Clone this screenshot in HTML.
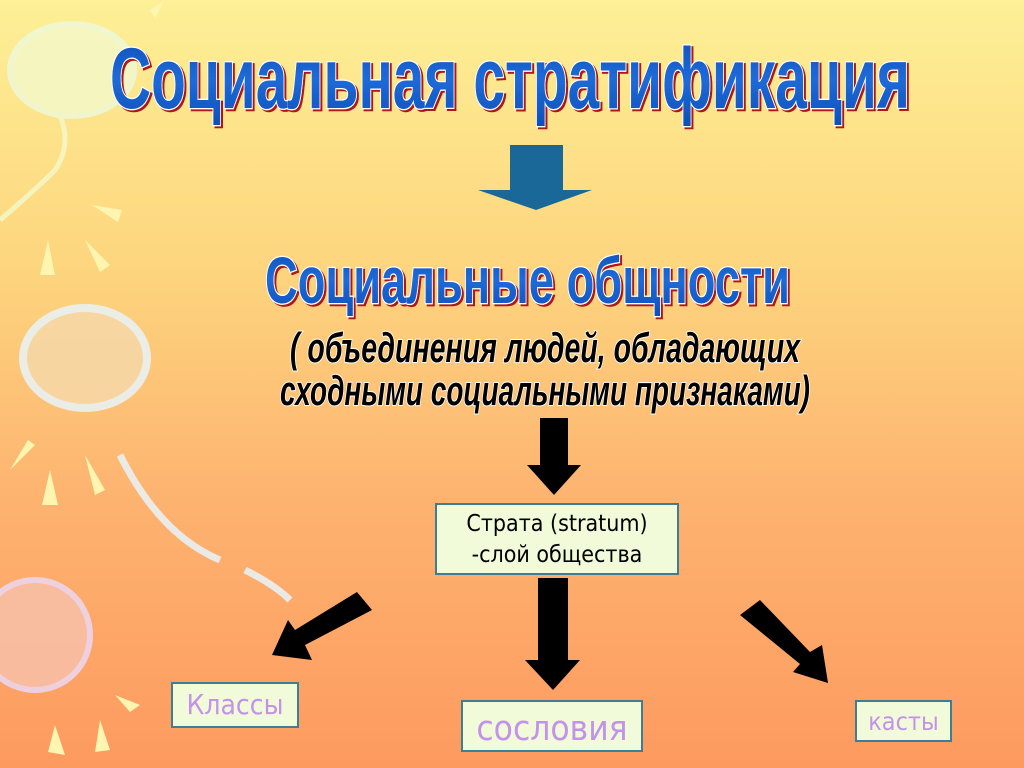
<!DOCTYPE html>
<html><head><meta charset="utf-8"><style>
html,body{margin:0;padding:0}
body{width:1024px;height:768px;overflow:hidden;background:linear-gradient(#fdf096 0%,#fdd57e 35%,#fdb370 65%,#fd9a60 100%);position:relative;font-family:"Liberation Sans",sans-serif}
.box{position:absolute;background:#f1fbd9;border:2px solid #3f7d93;box-sizing:border-box;text-align:center;font-family:"DejaVu Sans Condensed","DejaVu Sans","Liberation Sans",sans-serif;white-space:nowrap}
</style></head><body>
<svg width="1024" height="768" style="position:absolute;left:0;top:0">
<g opacity="0.85">
<ellipse cx="72" cy="70" rx="62" ry="46" fill="#f4f8c8" stroke="#eef8d8" stroke-width="6"/>
<path d="M60 115 q12 30 -5 55 q-20 20 -55 50" stroke="#f4f8c8" stroke-width="5" fill="none"/>
<ellipse cx="85" cy="358" rx="62" ry="50" fill="#f7d8a8" stroke="#e8f4fa" stroke-width="8"/>
<path d="M120 455 q40 80 100 105" stroke="#e8f4fa" stroke-width="7" fill="none"/>
<path d="M245 570 q30 15 45 30" stroke="#e8f4fa" stroke-width="7" fill="none"/>
<ellipse cx="35" cy="635" rx="55" ry="55" fill="#f8c0a8" stroke="#ecd8f4" stroke-width="6"/>
</g>
<g fill="#fdf5b0">
<polygon points="48,240 55,275 40,275"/><polygon points="85,240 110,265 100,272"/><polygon points="92,205 122,210 118,222"/>
<polygon points="50,470 58,505 42,505"/><polygon points="85,455 105,490 95,495"/><polygon points="10,470 35,445 28,440"/>
<polygon points="55,725 65,755 48,752"/><polygon points="100,720 110,750 95,752"/><polygon points="115,695 140,705 130,712"/>
<polygon points="150,10 165,0 155,18"/>
</g>
<defs><filter id="s"><feDropShadow dx="2" dy="2" stdDeviation="0" flood-color="#b01818"/></filter>
<linearGradient id="g" x1="0" y1="0" x2="0" y2="1"><stop offset="0" stop-color="#0d4fb8"/><stop offset="0.5" stop-color="#1e6ad8"/><stop offset="1" stop-color="#0d4fb8"/></linearGradient></defs>
<text x="110" y="108" textLength="800" lengthAdjust="spacingAndGlyphs" font-family="Liberation Sans Narrow, Liberation Sans, sans-serif" font-weight="bold" font-size="86" fill="url(#g)" stroke="#ffffff" stroke-width="2.5" paint-order="stroke" filter="url(#s)">Социальная стратификация</text>
<text x="265" y="303" textLength="525" lengthAdjust="spacingAndGlyphs" font-family="Liberation Sans Narrow, Liberation Sans, sans-serif" font-weight="bold" font-size="66" fill="url(#g)" stroke="#ffffff" stroke-width="2.5" paint-order="stroke" filter="url(#s)">Социальные общности</text>
<text x="290" y="362" textLength="510" lengthAdjust="spacingAndGlyphs" font-family="Liberation Sans Narrow, Liberation Sans, sans-serif" font-weight="bold" font-style="italic" font-size="42" fill="#000" stroke="#fff" stroke-width="2" paint-order="stroke">( объединения людей, обладающих</text>
<text x="280" y="405" textLength="530" lengthAdjust="spacingAndGlyphs" font-family="Liberation Sans Narrow, Liberation Sans, sans-serif" font-weight="bold" font-style="italic" font-size="42" fill="#000" stroke="#fff" stroke-width="2" paint-order="stroke">сходными социальными признаками)</text>
<polygon points="510,145 563,145 563,190 592,190 536,210 478,190 510,190" fill="#1a6898"/>
<polygon points="540,418 568,418 568,465 581,465 554,495 527,465 540,465" fill="#000"/>
<polygon points="538,578 568,578 568,660 580,660 553,690 525,660 538,660" fill="#000"/>
<polygon points="357,592 372,610 305,645 312,660 272,655 288,620 295,630" fill="#000"/>
<polygon points="740,615 760,600 810,652 822,645 828,683 793,672 800,664" fill="#000"/>
</svg>
<div class="box" style="left:435px;top:503px;width:244px;height:72px;font-size:23px;line-height:31px;padding-top:4px;color:#000">Страта (stratum)<br>-слой общества</div>
<div class="box" style="left:171px;top:682px;width:128px;height:46px;font-size:28px;line-height:42px;color:#c392ea">Классы</div>
<div class="box" style="left:461px;top:700px;width:182px;height:52px;font-size:35px;line-height:54px;color:#c392ea">сословия</div>
<div class="box" style="left:855px;top:700px;width:97px;height:42px;font-size:25px;line-height:40px;color:#c392ea">касты</div>
</body></html>
